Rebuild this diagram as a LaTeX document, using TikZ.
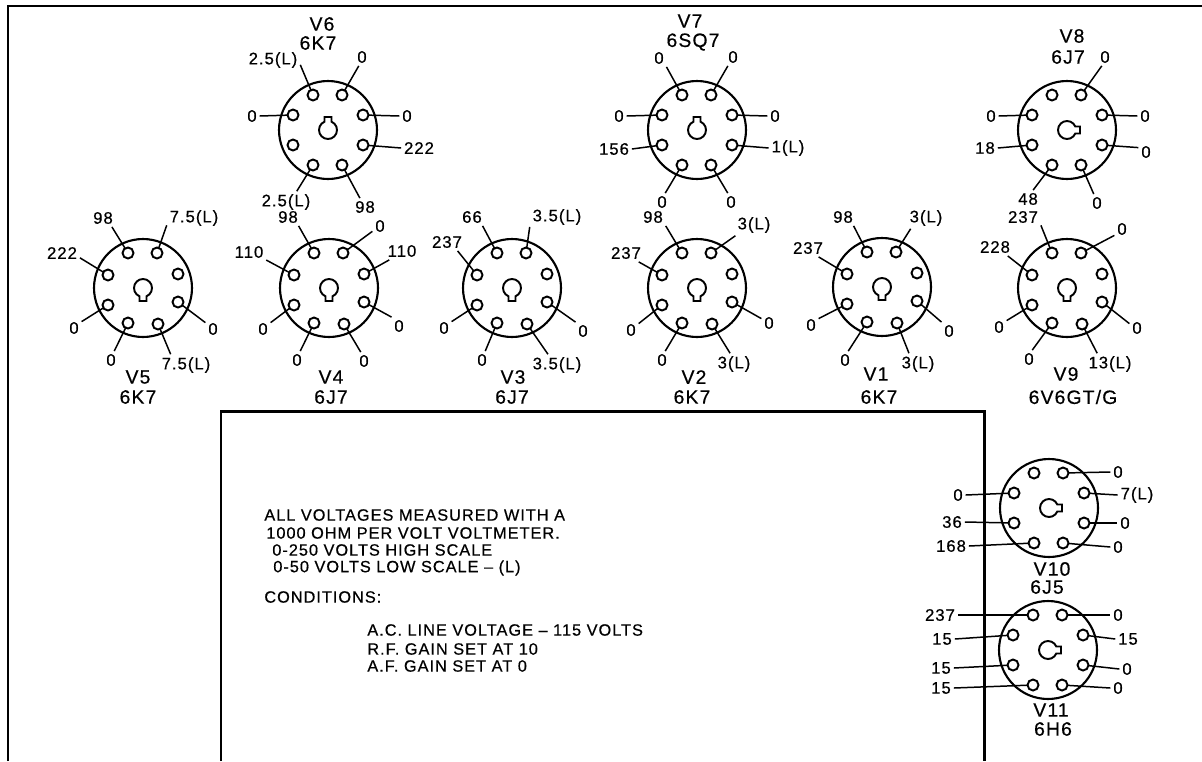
\documentclass[tikz,border=0pt]{standalone}
\usepackage{fontspec}
\setmainfont[LetterSpace=6,FakeBold=0.5]{Liberation Sans}
\usetikzlibrary{positioning}

% pin offsets from the centre of a socket
\def\pinsA{1/-15/-35,2/14/-35,3/35/-15,4/35/15,5/14/35,6/-15/35,7/-35/15,8/-35/-15}
\def\pinsB{1/-15/-35,2/14/-35,3/35/-14,4/35/14,5/15/36,6/-15/35,7/-35/17,8/-35/-13}

% name, x, y, key direction, pin list
\newcommand{\tubebase}[5]{
  \node[tubebody] (#1) at (#2,#3) {};
  \foreach \n/\dx/\dy in #5 {
    \node[tubepin] (#1p\n) at (#2+\dx,#3+\dy) {};
  }
  \draw[tubeline, shift={(#2,#3)}, rotate=#4] (23:9) arc[start angle=23, end angle=337, radius=9] -- (13,-3.5) -- (13,3.5) -- cycle;
}
% name, list of pin/x/y/anchor angle/text
\newcommand{\pinlabels}[2]{
  \foreach \n/\lx/\ly/\anc/\txt in {#2} {
    \node[pinlabel] (#1l\n) at (\lx,\ly) {\txt};
    \draw[wire] (#1p\n) -- (#1l\n.\anc);
  }
}

\begin{document}
\begin{tikzpicture}[
  x=0.02cm, y=-0.02cm,
  tubeline/.style={line width=1.1pt},
  tubebody/.style={draw, circle, line width=1.2pt, minimum size=1.96cm, inner sep=0pt, outer sep=0pt},
  tubepin/.style={draw, circle, line width=1.1pt, minimum size=0.22cm, inner sep=0pt, outer sep=0pt},
  wire/.style={line width=0.85pt},
  pinlabel/.style={inner sep=1.5pt, font=\fontsize{9.5}{11}\selectfont},
  tubename/.style={inner sep=0pt, font=\fontsize{11}{12}\selectfont},
  notetext/.style={anchor=west, inner sep=0pt, font=\fontsize{9.3}{11}\selectfont},
  frameline/.style={line width=1.7pt}
]
  \useasboundingbox (0,0) rectangle (1202,761);
  \draw[frameline] (8,761) -- (8,6) -- (1202,6);
  \draw[frameline] (221,761) -- (221,411) -- (984,411) -- (984,761);

  % upper row
  \tubebase{vsix}{328}{130}{90}{\pinsA}
  \pinlabels{vsix}{1/273/60/-10/2.5(L), 2/362/57/250/0, 3/407/116/180/0, 4/419/148/180/222, 5/365/207/120/98, 6/286/202/45/2.5(L), 8/252/116/0/0}
  \node[tubename] (vsixa) at (322,24) {V6};
  \node[tubename] (vsixb) at (318,43) {6K7};

  \tubebase{vseven}{697}{130}{90}{\pinsA}
  \pinlabels{vseven}{1/659/58/-50/0, 2/733/57/240/0, 3/775/116/180/0, 4/788/148/180/1(L), 5/731/202/110/0, 6/662/202/70/0, 7/614/149/0/156, 8/619/116/0/0}
  \node[tubename] (vsevena) at (690,21) {V7};
  \node[tubename] (vsevenb) at (693,42) {6SQ7};

  \tubebase{veight}{1067}{130}{0}{\pinsA}
  \pinlabels{veight}{2/1105/57/250/0, 3/1145/116/180/0, 4/1146/152/150/0, 5/1097/203/110/0, 6/1028/199/60/48, 7/985/148/0/18, 8/991/116/0/0}
  \node[tubename] (veighta) at (1072,36) {V8};
  \node[tubename] (veightb) at (1068,57) {6J7};

  % lower row
  \tubebase{vfive}{143}{288}{-90}{\pinsB}
  \pinlabels{vfive}{1/103/218/-45/98, 2/194/218/195/7.5(L), 4/213/329/140/0, 5/186/365/145/7.5(L), 6/111/360/70/0, 7/74/328/40/0, 8/62/253/-15/222}
  \node[tubename] (vfivea) at (138,377) {V5};
  \node[tubename] (vfiveb) at (138,397) {6K7};

  \tubebase{vfour}{329}{288}{-90}{\pinsB}
  \pinlabels{vfour}{1/288/217/-40/98, 2/380/226/215/0, 3/402/251/215/110, 4/399/326/130/0, 5/364/361/110/0, 6/297/360/70/0, 7/263/329/40/0, 8/249/252/-25/110}
  \node[tubename] (vfoura) at (331,377) {V4};
  \node[tubename] (vfourb) at (331,397) {6J7};

  \tubebase{vthree}{512}{288}{-90}{\pinsB}
  \pinlabels{vthree}{1/472/217/-40/66, 2/557/217/200/3.5(L), 4/583/331/130/0, 5/557/365/130/3.5(L), 6/482/360/70/0, 7/444/328/40/0, 8/447/242/-40/237}
  \node[tubename] (vthreea) at (513,377) {V3};
  \node[tubename] (vthreeb) at (512,397) {6J7};

  \tubebase{vtwo}{697}{288}{-90}{\pinsB}
  \pinlabels{vtwo}{1/653/217/-35/98, 2/754/225/210/3(L), 4/769/323/150/0, 5/734/364/110/3(L), 6/662/360/70/0, 7/631/330/40/0, 8/626/253/-35/237}
  \node[tubename] (vtwoa) at (694,377) {V2};
  \node[tubename] (vtwob) at (692,397) {6K7};

  \tubebase{vone}{882}{287}{-90}{\pinsB}
  \pinlabels{vone}{1/843/217/-40/98, 2/926/218/215/3(L), 4/949/331/130/0, 5/918/364/130/3(L), 6/845/360/70/0, 7/811/325/40/0, 8/808/248/-40/237}
  \node[tubename] (vonea) at (876,374) {V1};
  \node[tubename] (voneb) at (879,397) {6K7};

  \tubebase{vnine}{1067}{288}{-90}{\pinsB}
  \pinlabels{vnine}{1/1023/217/-25/237, 2/1122/229/220/0, 4/1137/328/150/0, 5/1110/364/140/13(L), 6/1029/359/70/0, 7/999/327/40/0, 8/995/247/-35/228}
  \node[tubename] (vninea) at (1066,374) {V9};
  \node[tubename] (vnineb) at (1073,397) {6V6GT/G};

  % right column
  \tubebase{vten}{1049}{508}{0}{\pinsA}
  \pinlabels{vten}{2/1118/472/180/0, 3/1137/495/180/7(L), 4/1125/523/180/0, 5/1118/547/180/0, 6/951/546/0/168, 7/952/522/0/36, 8/958/495/0/0}
  \node[tubename] (vtena) at (1052,569) {V10};
  \node[tubename] (vtenb) at (1047,587) {6J5};

  \tubebase{veleven}{1048}{650}{0}{\pinsA}
  \pinlabels{veleven}{1/940/615/0/237, 2/1118/615/180/0, 3/1128/639/180/15, 4/1127/669/180/0, 5/1118/688/180/0, 6/941/688/0/15, 7/941/668/0/15, 8/942/639/0/15}
  \node[tubename] (velevena) at (1051,710) {V11};
  \node[tubename] (velevenb) at (1053,729) {6H6};

  % notes in the box
  \node[notetext] (notea) at (264,515) {ALL VOLTAGES MEASURED WITH A};
  \node[notetext] (noteb) at (266,533) {1000 OHM PER VOLT VOLTMETER.};
  \node[notetext] (notec) at (272,550) {0-250 VOLTS HIGH SCALE};
  \node[notetext] (noted) at (273,568) {0-50 VOLTS LOW SCALE -- (L)};
  \node[notetext] (notee) at (264,597) {CONDITIONS:};
  \node[notetext] (notef) at (367,630) {A.C. LINE VOLTAGE -- 115 VOLTS};
  \node[notetext] (noteg) at (367,649) {R.F. GAIN SET AT 10};
  \node[notetext] (noteh) at (367,666) {A.F. GAIN SET AT 0};
\end{tikzpicture}
\end{document}
